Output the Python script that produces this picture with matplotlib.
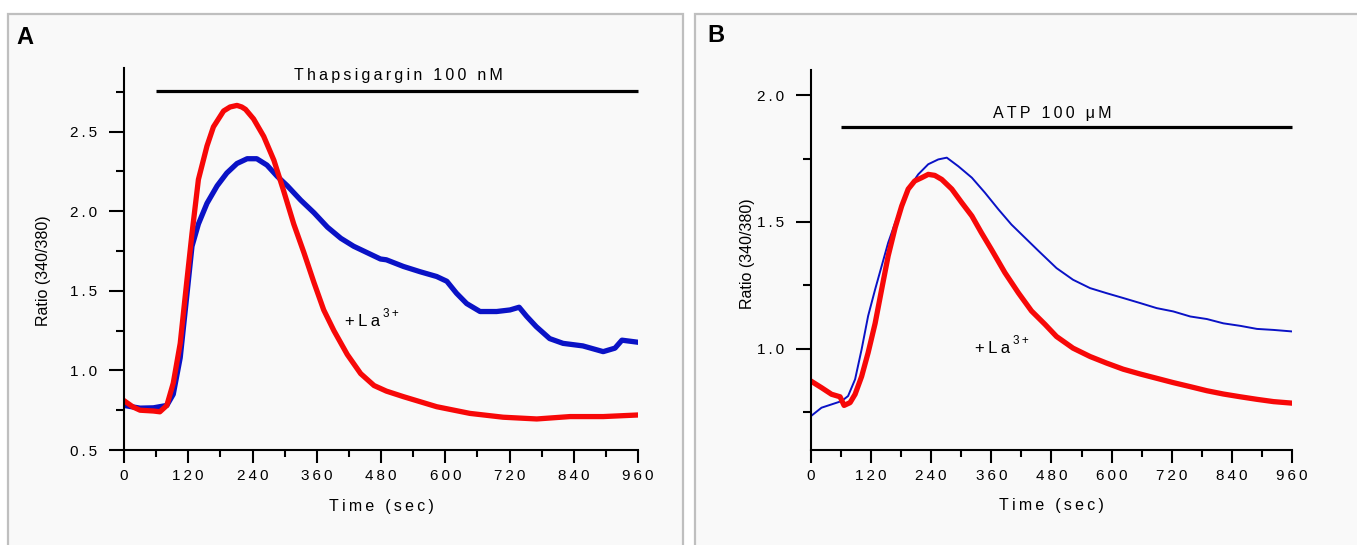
import matplotlib
matplotlib.use("Agg")
import matplotlib.pyplot as plt
from matplotlib.patches import Rectangle
from matplotlib.ticker import MultipleLocator

plt.rcParams['font.family'] = ['Liberation Sans', 'DejaVu Sans']

# ---------------- data ----------------
# Panel A (Thapsigargin 100 nM)
a_red_t = [0, 17, 30, 55, 67, 80, 92, 105, 117, 127, 139, 155, 167, 186, 198, 211, 220, 227,
           242, 261, 280, 298, 317, 336, 355, 373, 392, 417, 442, 467, 490, 522, 584, 646,
           708, 771, 833, 895, 960]
a_red_v = [0.81, 0.77, 0.75, 0.745, 0.74, 0.78, 0.92, 1.17, 1.55, 1.86, 2.20, 2.41, 2.53,
           2.63, 2.655, 2.665, 2.655, 2.64, 2.58, 2.47, 2.32, 2.13, 1.92, 1.74, 1.55, 1.38,
           1.25, 1.10, 0.98, 0.905, 0.87, 0.835, 0.772, 0.73, 0.706, 0.695, 0.71, 0.71, 0.72]
a_blue_t = [0, 30, 55, 80, 92, 105, 117, 127, 139, 155, 174, 192, 211, 230, 248, 267, 286,
            305, 330, 355, 380, 405, 429, 454, 479, 490, 522, 553, 584, 603, 621, 640, 665,
            696, 721, 738, 752, 770, 795, 820, 857, 895, 917, 930, 960]
a_blue_v = [0.78, 0.763, 0.765, 0.78, 0.85, 1.08, 1.46, 1.78, 1.92, 2.05, 2.16, 2.24, 2.30,
            2.33, 2.33, 2.29, 2.22, 2.16, 2.07, 1.99, 1.90, 1.83, 1.78, 1.74, 1.70, 1.695,
            1.653, 1.62, 1.59, 1.56, 1.485, 1.42, 1.37, 1.37, 1.38, 1.397, 1.34, 1.275, 1.20,
            1.17, 1.154, 1.118, 1.14, 1.19, 1.177]
a_bar = (60, 960, 2.758)
a_title = "Thapsigargin 100 nM"
a_title_x = 512
a_la_pos = (413, 1.305)

# Panel B (ATP 100 uM)
b_red_t = [0, 21, 41, 58, 66, 78, 88, 101, 114, 128, 141, 154, 168, 181, 194, 207, 221, 234,
           247, 261, 281, 301, 321, 340, 360, 387, 414, 440, 467, 490, 523, 557, 590, 623,
           657, 690, 723, 757, 790, 823, 857, 890, 923, 960]
b_red_v = [0.872, 0.846, 0.82, 0.81, 0.776, 0.787, 0.82, 0.89, 0.984, 1.10, 1.234, 1.366,
           1.478, 1.563, 1.63, 1.662, 1.675, 1.688, 1.684, 1.668, 1.63, 1.576, 1.524, 1.458,
           1.392, 1.30, 1.22, 1.149, 1.096, 1.048, 1.002, 0.969, 0.943, 0.919, 0.90, 0.883,
           0.866, 0.85, 0.834, 0.821, 0.81, 0.80, 0.791, 0.785]
b_blue_t = [0, 21, 41, 61, 74, 88, 101, 114, 128, 141, 154, 168, 181, 194, 214, 234, 254,
            271, 294, 321, 347, 374, 400, 427, 454, 490, 523, 557, 590, 623, 657, 690, 723,
            757, 790, 823, 857, 890, 923, 960]
b_blue_v = [0.734, 0.767, 0.78, 0.793, 0.813, 0.879, 0.997, 1.129, 1.234, 1.326, 1.418,
            1.497, 1.563, 1.63, 1.688, 1.728, 1.747, 1.754, 1.72, 1.675, 1.616, 1.55, 1.49,
            1.438, 1.386, 1.318, 1.272, 1.239, 1.219, 1.20, 1.18, 1.16, 1.147, 1.127, 1.117,
            1.10, 1.09, 1.078, 1.074, 1.068]
b_bar = (60, 960, 1.874)
b_title = "ATP 100 \u03bcM"
b_title_x = 482
b_la_pos = (327, 1.0)

x_ticks = [0, 120, 240, 360, 480, 600, 720, 840, 960]
a_yticks = [0.5, 1.0, 1.5, 2.0, 2.5]
b_yticks = [1.0, 1.5, 2.0]

RED = '#f70808'
BLUE = '#0a12c6'
TS = '\u2009'  # thin space for letter tracking


def track(s):
    return TS.join(list(s))


W, H = 1357, 545
fig = plt.figure(figsize=(W / 100, H / 100), dpi=100)
fig.patch.set_facecolor('white')

# panel frames
for x0, x1 in [(8, 683), (695, 1370)]:
    fig.patches.append(Rectangle((x0 / W, -0.05), (x1 - x0) / W, (H - 14) / H + 0.05,
                                 transform=fig.transFigure, facecolor='#f9f9f9',
                                 edgecolor='#bfbfbf', linewidth=1.6, zorder=-5))

fig.text(16 / W, 1 - 37 / H, 'A', fontsize=17, fontweight='bold', va='center', ha='left',
         family='Liberation Sans')
fig.text(707 / W, 1 - 36 / H, 'B', fontsize=17, fontweight='bold', va='center', ha='left',
         family='Liberation Sans')


def setup(ax, ylim, yticks, yminor, ylab_xy, xlab_y):
    ax.set_facecolor('none')
    ax.set_xlim(0, 960)
    ax.set_ylim(*ylim)
    for s in ['top', 'right']:
        ax.spines[s].set_visible(False)
    for s in ['left', 'bottom']:
        ax.spines[s].set_linewidth(1.5)
    ax.set_xticks(x_ticks)
    ax.set_xticklabels([track(str(t)) for t in x_ticks])
    ax.xaxis.set_minor_locator(MultipleLocator(60))
    ax.set_yticks(yticks)
    ax.set_yticklabels([track(f"{v:.1f}") for v in yticks])
    ax.set_yticks(yminor, minor=True)
    ax.tick_params(axis='x', which='major', length=9, width=1.5, direction='out', pad=5,
                   labelsize=11)
    ax.tick_params(axis='x', which='minor', length=5, width=1.5, direction='out')
    ax.tick_params(axis='y', which='major', length=11, width=1.5, direction='out', pad=8,
                   labelsize=11)
    ax.tick_params(axis='y', which='minor', length=6, width=1.5, direction='out')
    ax.set_xlabel(track('Time (sec)'), fontsize=11.5, va='center')
    ax.xaxis.set_label_coords(0.5, xlab_y)
    ax.set_ylabel('Ratio (340/380)', fontsize=11.5, va='center')
    ax.yaxis.set_label_coords(*ylab_xy)


axA = fig.add_axes([124 / W, 95 / H, 514 / W, 382 / H])
axA.set_zorder(2)
setup(axA, (0.5, 2.9), a_yticks, [0.75, 1.25, 1.75, 2.25, 2.75], (-0.156, 0.47), -0.147)
axA.plot(a_blue_t, a_blue_v, color=BLUE, lw=3.8, solid_joinstyle='round')
axA.plot(a_red_t, a_red_v, color=RED, lw=3.8, solid_joinstyle='round')
axA.plot([a_bar[0], a_bar[1]], [a_bar[2], a_bar[2]], color='black', lw=2.3, clip_on=False,
         solid_capstyle='butt')
axA.text(a_title_x, a_bar[2] + 0.05, track(a_title), ha='center', va='bottom',
         fontsize=11.5)
axA.text(a_la_pos[0], a_la_pos[1], track('+La'), ha='left', va='center', fontsize=12)
axA.annotate(track('3+'), xy=a_la_pos, xytext=(27.5, 5.5), textcoords='offset points',
             ha='left', va='center', fontsize=8.5)

axB = fig.add_axes([811 / W, 95 / H, 481 / W, 380 / H])
axB.set_zorder(2)
setup(axB, (0.6, 2.1), b_yticks, [0.75, 1.25, 1.75], (-0.131, 0.516), -0.147)
axB.plot(b_blue_t, b_blue_v, color=BLUE, lw=1.4, solid_joinstyle='round')
axB.plot(b_red_t, b_red_v, color=RED, lw=3.8, solid_joinstyle='round')
axB.plot([b_bar[0], b_bar[1]], [b_bar[2], b_bar[2]], color='black', lw=2.3, clip_on=False,
         solid_capstyle='butt')
axB.text(b_title_x, b_bar[2] + 0.025, track(b_title), ha='center',
         va='bottom', fontsize=11.5)
axB.text(b_la_pos[0], b_la_pos[1], track('+La'), ha='left', va='center', fontsize=12)
axB.annotate(track('3+'), xy=b_la_pos, xytext=(27.5, 5.5), textcoords='offset points',
             ha='left', va='center', fontsize=8.5)

fig.savefig('out.png', dpi=100)
